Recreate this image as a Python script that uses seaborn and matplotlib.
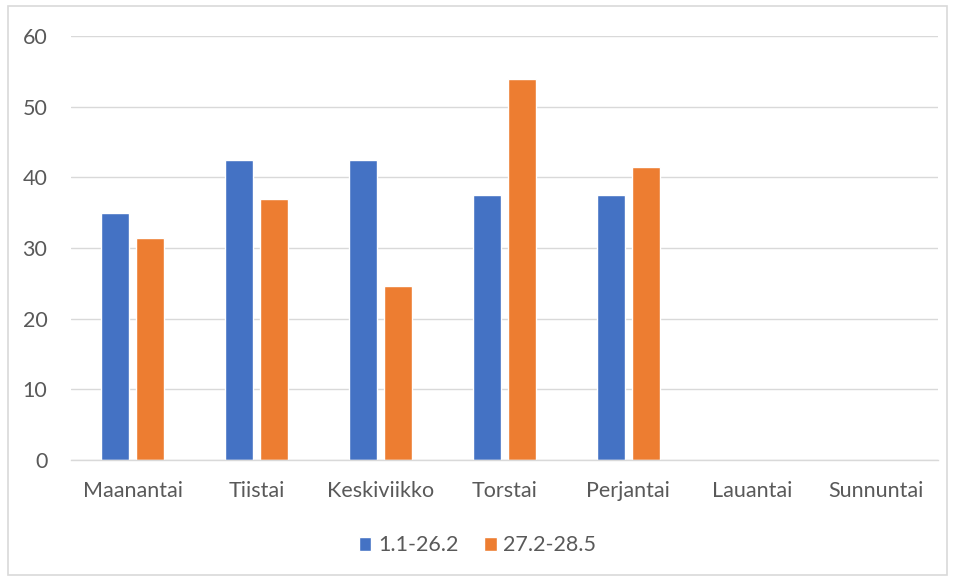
import matplotlib
matplotlib.use("Agg")
import matplotlib.pyplot as plt
import seaborn as sns
import pandas as pd
from matplotlib.patches import Rectangle

days = ["Maanantai", "Tiistai", "Keskiviikko", "Torstai", "Perjantai", "Lauantai", "Sunnuntai"]
series_names = ["1.1-26.2", "27.2-28.5"]
s1 = [35.0, 42.5, 42.5, 37.5, 37.5, 0, 0]
s2 = [31.4, 36.9, 24.6, 53.9, 41.5, 0, 0]
yticks = [0, 10, 20, 30, 40, 50, 60]

df = pd.DataFrame({
    "day": days * 2,
    "value": s1 + s2,
    "series": [series_names[0]] * len(days) + [series_names[1]] * len(days),
})

sns.set_theme(style="white")
plt.rcParams['font.family'] = ['Lato', 'DejaVu Sans']
text_color = "#595959"

fig = plt.figure(figsize=(9.55, 5.78), dpi=100)
ax = fig.add_axes([0.0743, 0.204, 0.9078, 0.7337])
sns.barplot(data=df, x="day", y="value", hue="series", order=days,
            hue_order=series_names, palette=["#4472c4", "#ed7d31"],
            width=0.565, gap=0.2, ax=ax, saturation=1, legend=True)

ax.set_ylim(0, 60)
ax.set_xlim(-0.5, len(days) - 0.5)
ax.set_yticks(yticks)
ax.yaxis.grid(True, color="#d9d9d9", linewidth=1)
ax.set_axisbelow(True)
for s in ["top", "right", "left"]:
    ax.spines[s].set_visible(False)
ax.spines["bottom"].set_color("#d9d9d9")
ax.spines["bottom"].set_linewidth(1)
ax.tick_params(axis="both", length=0, labelsize=15.5, colors=text_color)
ax.tick_params(axis="y", pad=17)
ax.tick_params(axis="x", pad=15)
ax.set_xlabel("")
ax.set_ylabel("")

handles, labels = ax.get_legend_handles_labels()
ax.legend(handles, labels, loc="center", bbox_to_anchor=(0.5, 0.0565),
          bbox_transform=fig.transFigure, ncol=2, frameon=False,
          fontsize=15.5, labelcolor=text_color, handlelength=0.6, handleheight=0.6,
          handletextpad=0.3, columnspacing=1.2)

fig.patches.append(Rectangle((0.008, 0.005), 0.984, 0.985, transform=fig.transFigure,
                             fill=False, edgecolor="#d9d9d9", linewidth=1.2))

fig.savefig("out.png", dpi=100, facecolor="white")
